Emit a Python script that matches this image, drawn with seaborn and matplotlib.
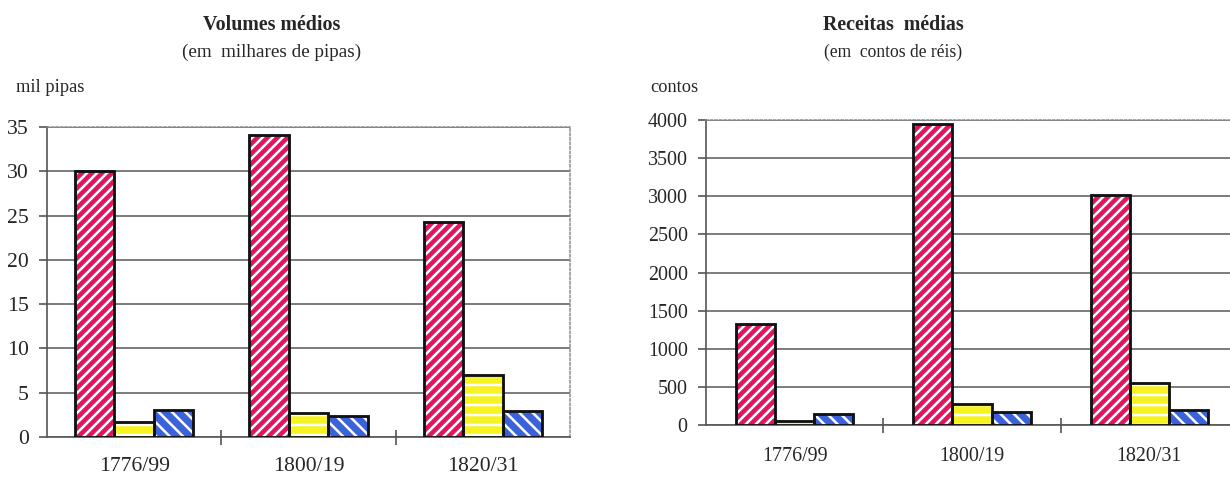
import matplotlib
matplotlib.use("Agg")
import matplotlib.pyplot as plt
from matplotlib.patches import Rectangle
import seaborn as sns
import pandas as pd

# ---- data ----
periods = ["1776/99", "1800/19", "1820/31"]
series = ["Série A", "Série B", "Série C"]
volumes_a = [30.0, 34.1, 24.3]
volumes_b = [1.7, 2.7, 7.0]
volumes_c = [3.1, 2.4, 2.9]
receitas_a = [1320, 3950, 3020]
receitas_b = [50, 275, 555]
receitas_c = [145, 170, 195]
vol_ticks = [0, 5, 10, 15, 20, 25, 30, 35]
rec_ticks = [0, 500, 1000, 1500, 2000, 2500, 3000, 3500, 4000]

colors = {"Série A": "#E3145F", "Série B": "#F7F322", "Série C": "#3C62DA"}
hatches = {"Série A": "////", "Série B": "--", "Série C": "\\\\\\"}

sns.set_theme(style="white")
plt.rcParams["font.family"] = ["Liberation Serif", "DejaVu Serif"]
plt.rcParams["hatch.linewidth"] = 1.5


def long_df(a, b, c):
    rows = []
    for s, vals in zip(series, [a, b, c]):
        for p, v in zip(periods, vals):
            rows.append({"periodo": p, "serie": s, "valor": v})
    return pd.DataFrame(rows)


fig = plt.figure(figsize=(10.25, 3.975), dpi=120)
W, H = 1230, 477

ax1 = fig.add_axes([47 / W, 1 - 437 / H, (570 - 47) / W, (437 - 127) / H])
ax2 = fig.add_axes([706 / W, 1 - 425 / H, (1238 - 706) / W, (425 - 120) / H])


def draw(ax, df, ymax, yticks, width, lsize, xpad):
    sns.barplot(data=df, x="periodo", y="valor", hue="serie", order=periods,
                hue_order=series, palette=colors, width=width, gap=0,
                saturation=1, legend=False, errorbar=None, ax=ax, zorder=3)
    n = len(periods)
    bars = [p for p in ax.patches if isinstance(p, Rectangle)][: n * len(series)]
    for i, p in enumerate(bars):
        s = series[i // n]
        p.set_hatch(hatches[s])
        p.set_edgecolor("white")
        p.set_linewidth(0)
        ax.add_patch(Rectangle((p.get_x(), p.get_y()), p.get_width(), p.get_height(),
                               fill=False, edgecolor="#111111", lw=1.7, zorder=4))
    ax.set_xlim(-0.5, len(periods) - 0.5)
    ax.set_ylim(0, ymax)
    ax.set_yticks(yticks)
    ax.set_xlabel("")
    ax.set_ylabel("")
    ax.yaxis.grid(True, color="#555555", lw=0.9, zorder=0)
    ax.set_axisbelow(True)
    for side in ["top", "right"]:
        ax.spines[side].set_visible(True)
        ax.spines[side].set_linestyle((0, (1.5, 1.5)))
        ax.spines[side].set_color("#8a8a8a")
        ax.spines[side].set_linewidth(0.9)
    for side in ["left", "bottom"]:
        ax.spines[side].set_color("#555555")
        ax.spines[side].set_linewidth(1.0)
    ax.set_xticks([i + 0.5 for i in range(len(periods) - 1)], minor=True)
    ax.tick_params(axis="x", which="major", length=0, pad=xpad, labelsize=lsize)
    ax.tick_params(axis="x", which="minor", length=9, width=1, direction="inout",
                   color="#555555", bottom=True)
    ax.tick_params(axis="y", which="major", length=5, width=1, direction="out",
                   color="#555555", left=True, pad=6, labelsize=lsize)


draw(ax1, long_df(volumes_a, volumes_b, volumes_c), 35, vol_ticks, 0.68, 13, 12)
draw(ax2, long_df(receitas_a, receitas_b, receitas_c), 4000, rec_ticks, 0.66, 12, 13)

fig.text(272 / W, 1 - 25 / H, "Volumes médios", ha="center", va="center",
         fontsize=12, fontweight="bold")
fig.text(272 / W, 1 - 52 / H, "(em  milhares de pipas)", ha="center", va="center",
         fontsize=11.5)
fig.text(16 / W, 1 - 87 / H, "mil pipas", ha="left", va="center", fontsize=11)

fig.text(893 / W, 1 - 25 / H, "Receitas  médias", ha="center", va="center",
         fontsize=12, fontweight="bold")
fig.text(893 / W, 1 - 52 / H, "(em  contos de réis)", ha="center", va="center",
         fontsize=10.5)
fig.text(650 / W, 1 - 88 / H, "contos", ha="left", va="center", fontsize=11)

fig.savefig("out.png", dpi=120, facecolor="white")
